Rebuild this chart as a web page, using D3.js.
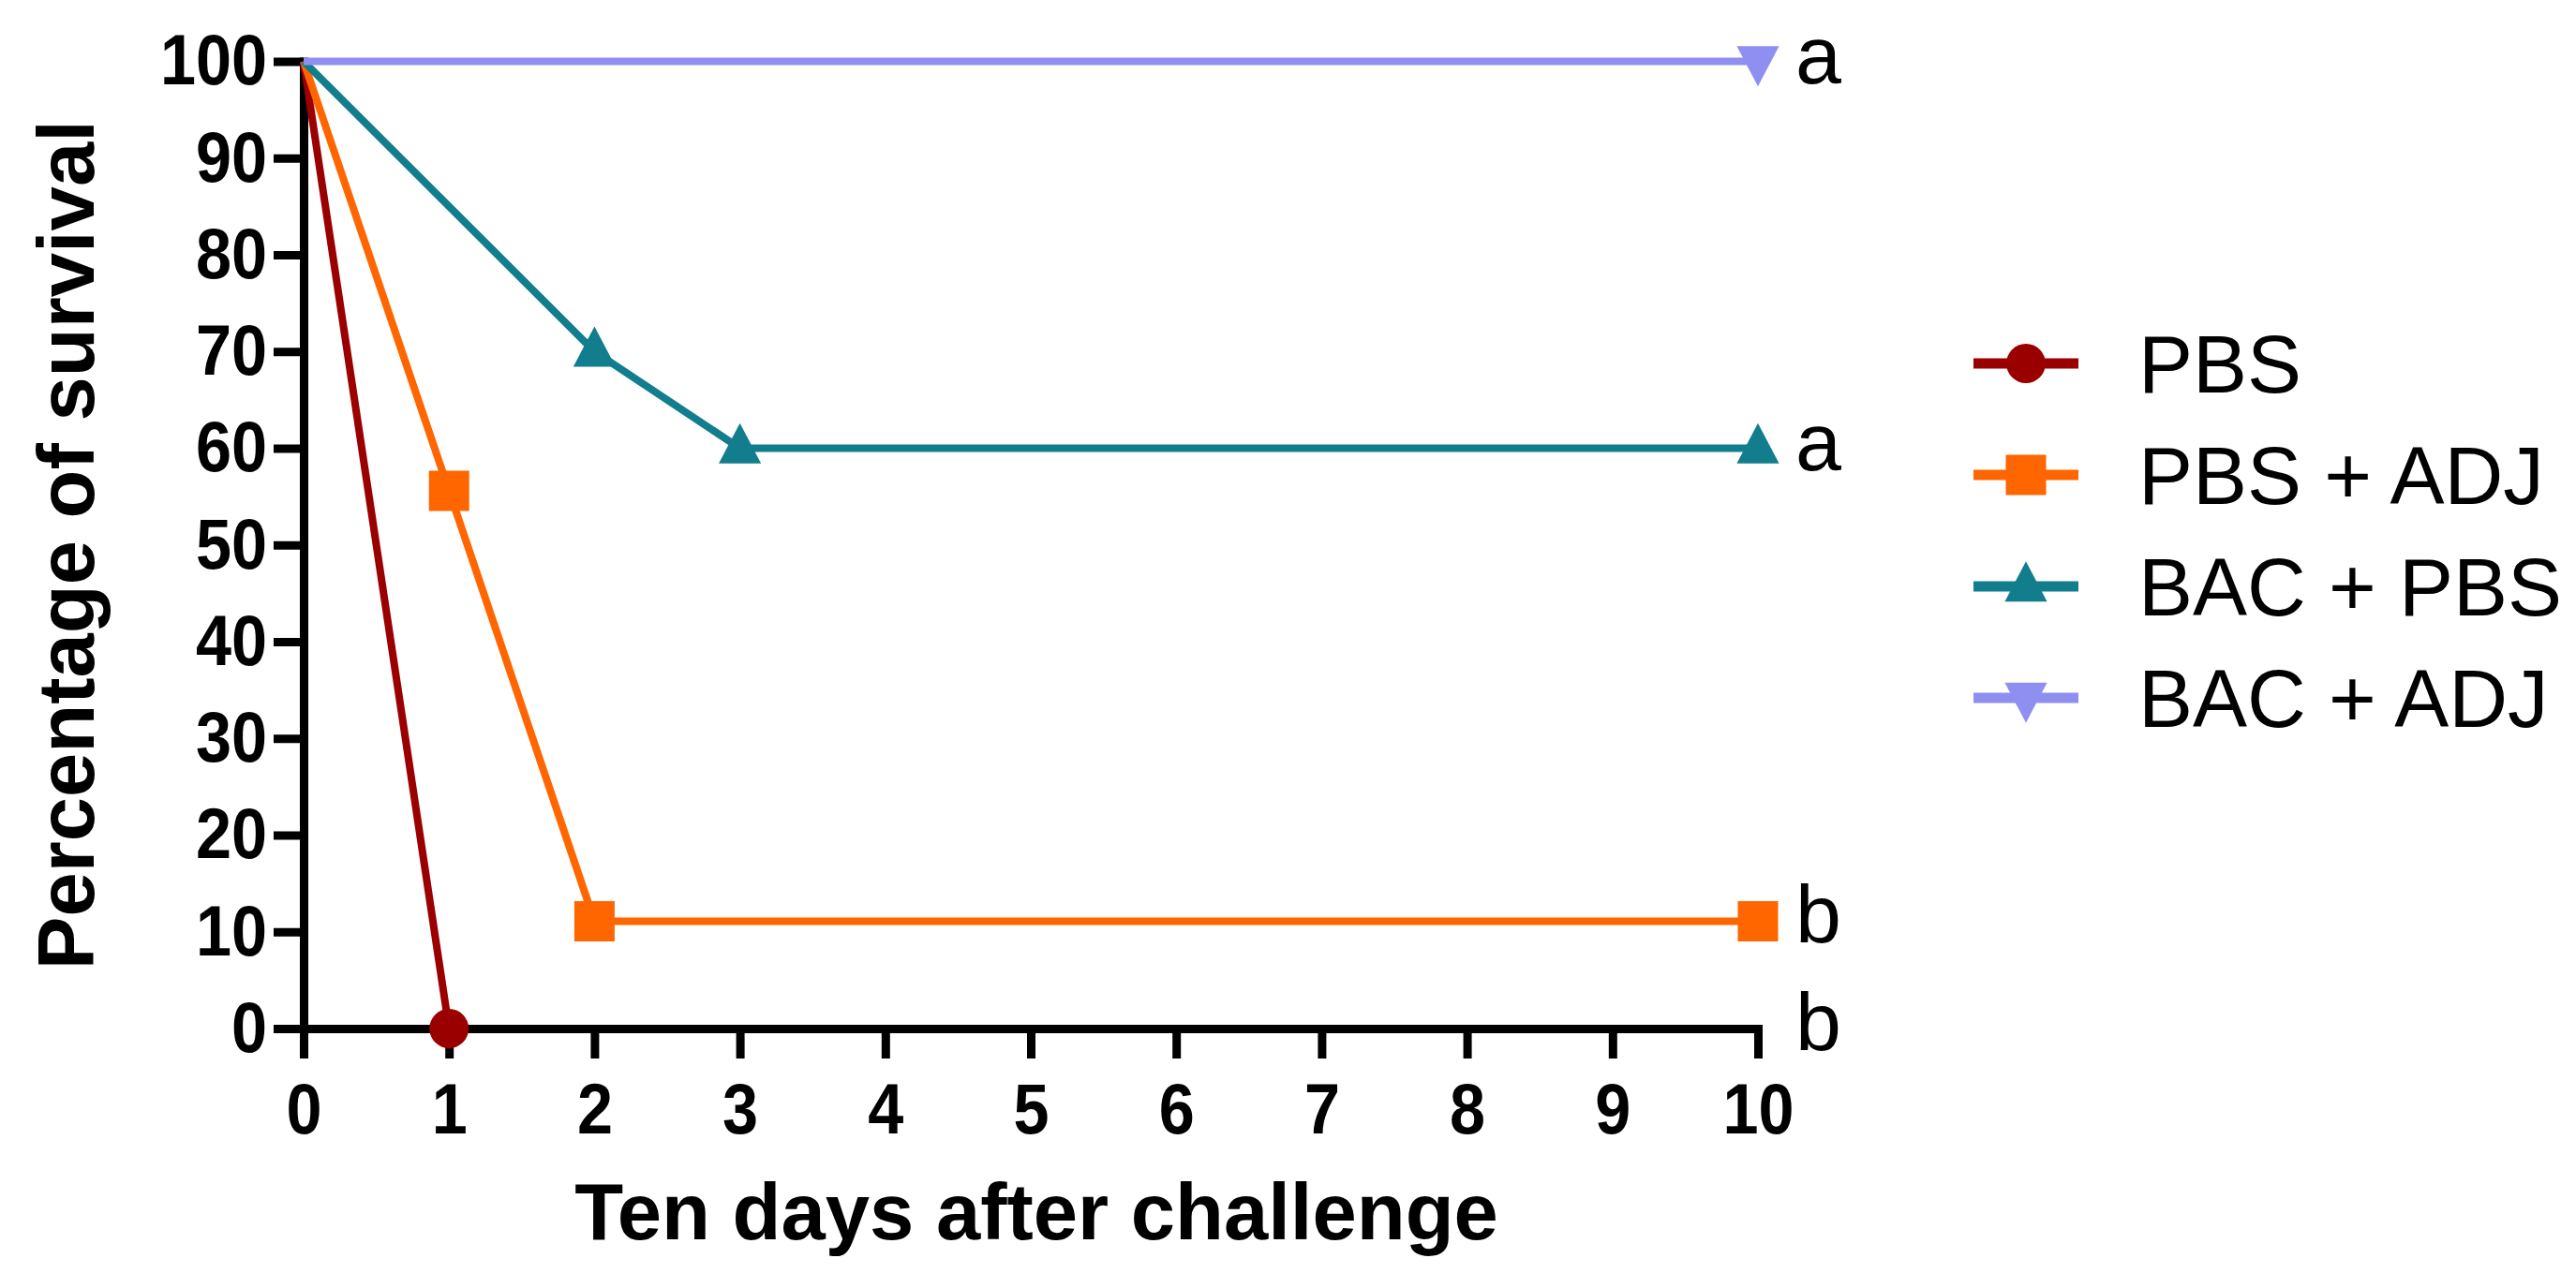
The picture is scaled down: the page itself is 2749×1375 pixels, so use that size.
<!DOCTYPE html>
<html>
<head>
<meta charset="utf-8">
<script src="https://cdn.jsdelivr.net/npm/d3@7"></script>
<style>
  html, body { margin: 0; padding: 0; background: #ffffff; }
  svg { display: block; font-family: "Liberation Sans", Arial, sans-serif; }
</style>
</head>
<body>
<svg id="chart" width="2749" height="1375"></svg>
<script>
// ---- data ----
const xTicks = [0, 1, 2, 3, 4, 5, 6, 7, 8, 9, 10];
const yTicks = [0, 10, 20, 30, 40, 50, 60, 70, 80, 90, 100];
const seriesNames = ["PBS", "PBS + ADJ", "BAC + PBS", "BAC + ADJ"];
const seriesColors = ["#9b0000", "#ff6600", "#117d8d", "#8f8ff2"];
const seriesSymbols = ["circle", "square", "triangleUp", "triangleDown"];
const pbsDays = [0, 1];
const pbsSurvival = [100, 0];
const pbsAdjDays = [0, 1, 2, 10];
const pbsAdjSurvival = [100, 55.6, 11.1, 11.1];
const bacPbsDays = [0, 2, 3, 10];
const bacPbsSurvival = [100, 70, 60, 60];
const bacAdjDays = [0, 10];
const bacAdjSurvival = [100, 100];
const sigLetters = ["b", "b", "a", "a"];
const xTitle = "Ten days after challenge";
const yTitle = "Percentage of survival";

const allDays = [pbsDays, pbsAdjDays, bacPbsDays, bacAdjDays];
const allSurv = [pbsSurvival, pbsAdjSurvival, bacPbsSurvival, bacAdjSurvival];
const series = seriesNames.map((name, i) => ({
  name, color: seriesColors[i], symbol: seriesSymbols[i], letter: sigLetters[i],
  points: allDays[i].map((d, j) => ({ day: d, surv: allSurv[i][j] }))
}));

// ---- layout ----
const svg = d3.select("#chart");
const x = d3.scaleLinear().domain([0, 10]).range([324, 1876]);
const y = d3.scaleLinear().domain([0, 100]).range([1098, 65.5]);
const axisW = 9, lineW = 8;
const font = '"Liberation Sans", Arial, sans-serif';
const tickScaleX = 0.9;

function symbolPath(type, size) {
  const s = size;
  if (type === "circle") return d3.symbol(d3.symbolCircle, Math.PI * (s / 2) * (s / 2))();
  if (type === "square") return d3.symbol(d3.symbolSquare, s * s)();
  const h = s;
  const w = s * 1.05;
  if (type === "triangleUp") return `M0,${-h * 0.62}L${w / 2},${h * 0.38}L${-w / 2},${h * 0.38}Z`;
  return `M0,${h * 0.62}L${w / 2},${-h * 0.38}L${-w / 2},${-h * 0.38}Z`;
}

// axes
const xAxis = d3.axisBottom(x).tickValues(xTicks).tickSize(32).tickSizeOuter(0).tickPadding(26).tickFormat(d3.format("d"));
const yAxis = d3.axisLeft(y).tickValues(yTicks).tickSize(32).tickSizeOuter(0).tickPadding(7).tickFormat(d3.format("d"));

const gx = svg.append("g").attr("transform", `translate(0,${y(0)})`).call(xAxis);
const gy = svg.append("g").attr("transform", `translate(${x(0)},0)`).call(yAxis);
[gx, gy].forEach(g => {
  g.select(".domain").attr("stroke", "#000").attr("stroke-width", axisW).attr("stroke-linecap", "square");
  g.selectAll(".tick line").attr("stroke", "#000").attr("stroke-width", axisW);
  g.selectAll(".tick text").attr("fill", "#000").attr("font-family", font).attr("font-weight", "bold")
    .attr("font-size", 76).attr("transform", `scale(${tickScaleX},1)`);
});
gy.selectAll(".tick text").attr("x", -(32 + 7) / tickScaleX);

// series lines
const line = d3.line().x(d => x(d.day)).y(d => y(d.surv));
const plot = svg.append("g");
series.forEach(s => {
  plot.append("path").datum(s.points).attr("d", line)
    .attr("fill", "none").attr("stroke", s.color).attr("stroke-width", lineW)
    .attr("stroke-linejoin", "round");
});
series.forEach(s => {
  plot.selectAll(null).data(s.points.filter(p => p.day > 0)).enter().append("path")
    .attr("transform", p => `translate(${x(p.day)},${y(p.surv)})`)
    .attr("d", symbolPath(s.symbol, s.symbol === "circle" ? 42 : 43))
    .attr("fill", s.color);
});

// significance letters
series.forEach(s => {
  const last = s.points[s.points.length - 1];
  svg.append("text").attr("x", x(10) + 40).attr("y", y(last.surv) + 23)
    .attr("font-family", font).attr("font-size", 88).attr("fill", "#000").text(s.letter);
});

// axis titles
svg.append("text").attr("x", (x(0) + x(10)) / 2 + 6).attr("y", 1323)
  .attr("text-anchor", "middle").attr("font-family", font).attr("font-weight", "bold")
  .attr("font-size", 85).text(xTitle);
svg.append("text").attr("transform", `translate(100,${(y(0) + y(100)) / 2}) rotate(-90)`)
  .attr("text-anchor", "middle").attr("font-family", font).attr("font-weight", "bold")
  .attr("font-size", 85).text(yTitle);

// legend
const legend = svg.append("g");
const legendY = [388, 507, 626, 745];
series.forEach((s, i) => {
  const g = legend.append("g").attr("transform", `translate(0,${legendY[i]})`);
  g.append("line").attr("x1", 2106).attr("x2", 2218).attr("y1", 0).attr("y2", 0)
    .attr("stroke", s.color).attr("stroke-width", 11);
  g.append("path").attr("transform", "translate(2162,0)")
    .attr("d", symbolPath(s.symbol, s.symbol === "circle" ? 42 : 43)).attr("fill", s.color);
  g.append("text").attr("x", 2282).attr("y", 31).attr("font-family", font)
    .attr("font-size", 87).attr("fill", "#000").text(s.name);
});
</script>
</body>
</html>
